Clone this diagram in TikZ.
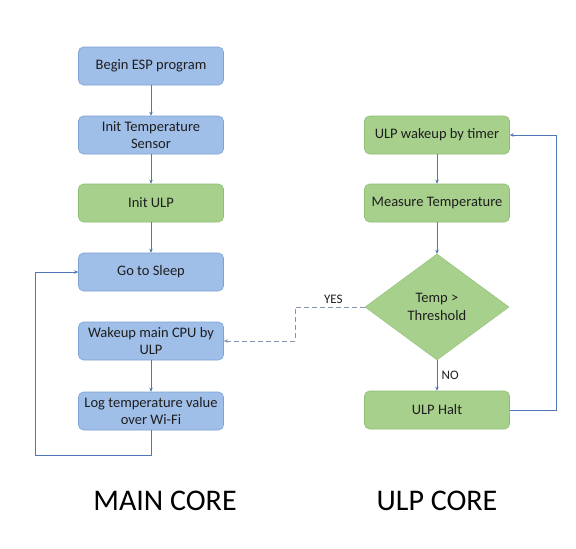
\documentclass[tikz,border=0pt]{standalone}
\usepackage{fontspec}
\setmainfont{Carlito}
\usetikzlibrary{arrows.meta,shapes.geometric}
\definecolor{bfill}{HTML}{9FBEE8}
\definecolor{bdraw}{HTML}{7FA2D4}
\definecolor{gfill}{HTML}{A8D08D}
\definecolor{gdraw}{HTML}{8DBE73}
\definecolor{lin}{HTML}{4F76B5}
\definecolor{dsh}{HTML}{8496AE}
\definecolor{txt}{HTML}{1E1E1E}
\tikzset{
  box/.style={rounded corners=5pt, minimum width=145pt, minimum height=38pt, align=center, font=\fontsize{14.5}{17.5}\selectfont, text=txt, line width=0.6pt},
  bbox/.style={box, fill=bfill, draw=bdraw},
  gbox/.style={box, fill=gfill, draw=gdraw},
  dec/.style={diamond, aspect=1.36, minimum width=144pt, minimum height=106pt, inner sep=0pt, fill=gfill, draw=gdraw, align=center, font=\fontsize{14.5}{17.5}\selectfont, text=txt},
  arr/.style={draw=lin, line width=0.7pt, -{Stealth[length=4pt,width=3.5pt]}},
  lbl/.style={font=\fontsize{13}{15}\selectfont, text=txt},
  title/.style={font=\fontsize{30}{34}\selectfont, text=black}
}
\begin{document}
\begin{tikzpicture}[x=1pt,y=-1pt]
\useasboundingbox[fill=white] (0,0) rectangle (576,549);
% main core
\node[bbox] (begin) at (151,66) {Begin ESP program};
\node[bbox] (inittemp) at (151,135) {Init Temperature\\Sensor};
\node[gbox] (initulp) at (151,203) {Init ULP};
\node[bbox] (sleep) at (151,272) {Go to Sleep};
\node[bbox] (wakemain) at (151,341) {Wakeup main CPU by\\ULP};
\node[bbox] (log) at (151,411) {Log temperature value\\over Wi-Fi};
% ulp core
\node[gbox] (ulpwake) at (437,135) {ULP wakeup by timer};
\node[gbox] (measure) at (437,203) {Measure Temperature};
\node[dec] (cmp) at (437,307) {Temp >\\Threshold};
\node[gbox] (halt) at (437,410) {ULP Halt};
% titles
\node[title] (t1) at (165,501) {MAIN CORE};
\node[title] (t2) at (437,501) {ULP CORE};
% connectors
\draw[arr] (begin) -- (inittemp);
\draw[arr] (inittemp) -- (initulp);
\draw[arr] (initulp) -- (sleep);
\draw[arr] (wakemain) -- (log);
\coordinate (l1) at (35,455);
\draw[arr] (log.south) |- (l1) |- (sleep.west);
\draw[arr] (ulpwake) -- (measure);
\draw[arr] (measure) -- (cmp.north);
\draw[arr] (cmp.south) -- node[lbl, right, xshift=1pt] (no) {NO} (halt.north);
\coordinate (r1) at (556,410);
\draw[arr] (halt.east) -- (r1) |- (ulpwake.east);
\coordinate (y1) at (295,307);
\draw[arr, draw=dsh, dash pattern=on 5pt off 3pt] (cmp.west) -- node[lbl, above, pos=0.45] (yes) {YES} (y1) |- (wakemain.east);
\end{tikzpicture}
\end{document}
